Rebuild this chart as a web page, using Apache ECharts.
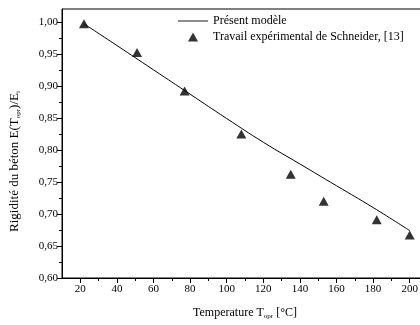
<!DOCTYPE html>
<html>
<head>
<meta charset="utf-8">
<script src="https://cdn.jsdelivr.net/npm/echarts@6/dist/echarts.min.js"></script>
<style>
  html, body { margin: 0; padding: 0; background: #fff; overflow: hidden; }
  #chart { width: 428px; height: 325px; }
</style>
</head>
<body>
<div id="chart"></div>
<script>
// model curve
const modelTemp = [22, 40, 60, 80, 100, 120, 140, 160, 180, 200];
const modelRigidity = [0.997, 0.963, 0.925, 0.887, 0.849, 0.812, 0.778, 0.744, 0.710, 0.674];

// Schneider experimental points
const expTemp = [22, 51, 77, 108, 135, 153, 182, 200];
const expRigidity = [0.997, 0.952, 0.892, 0.825, 0.762, 0.720, 0.691, 0.667];

const xMajor = [20, 40, 60, 80, 100, 120, 140, 160, 180, 200];
const xMinor = [30, 50, 70, 90, 110, 130, 150, 170, 190];
const yMajor = [0.60, 0.65, 0.70, 0.75, 0.80, 0.85, 0.90, 0.95, 1.00];
const yMinor = [0.625, 0.675, 0.725, 0.775, 0.825, 0.875, 0.925, 0.975];

const font = 'Liberation Serif';
const sub = { fontFamily: font, fontSize: 7, lineHeight: 6, verticalAlign: 'bottom', color: '#000' };

const chart = echarts.init(document.getElementById('chart'));

const baseX = {
  type: 'value', min: 10, max: 210, position: 'bottom',
  splitLine: { show: false }
};
const baseY = {
  type: 'value', min: 0.60, max: 1.02, position: 'left',
  splitLine: { show: false }
};

chart.setOption({
  animation: false,
  textStyle: { fontFamily: font, color: '#000' },
  grid: { left: 62, top: 9, right: 0, bottom: 44, show: true, borderColor: '#000', borderWidth: 1 },
  legend: {
    orient: 'vertical', left: 178, top: 15, padding: 0,
    itemWidth: 30, itemHeight: 9, itemGap: 4,
    textStyle: { fontFamily: font, fontSize: 12, color: '#000' },
    data: [
      { name: 'Présent modèle', icon: 'path://M0,0 L40,0 L40,1.2 L0,1.2 Z' },
      { name: 'Travail expérimental de Schneider, [13]', icon: 'path://M5,0 L10,9 L0,9 Z' }
    ]
  },
  xAxis: [
    Object.assign({}, baseX, {
      axisLine: { lineStyle: { color: '#000' } },
      axisTick: { length: 5, customValues: xMajor, lineStyle: { color: '#000' } },
      axisLabel: { customValues: xMajor, fontFamily: font, fontSize: 11, color: '#000', margin: 6 },
      name: 'Temperature T{sub|opr} [°C]',
      nameLocation: 'middle', nameGap: 28,
      nameTextStyle: { fontFamily: font, fontSize: 12, color: '#000', lineHeight: 14, rich: { sub: sub } }
    }),
    Object.assign({}, baseX, {
      axisLine: { show: false },
      axisTick: { length: 3, customValues: xMinor, lineStyle: { color: '#000' } },
      axisLabel: { show: false }
    })
  ],
  yAxis: [
    Object.assign({}, baseY, {
      axisLine: { show: true, lineStyle: { color: '#000' } },
      axisTick: { show: true, length: 5, customValues: yMajor, lineStyle: { color: '#000' } },
      axisLabel: {
        customValues: yMajor, fontFamily: font, fontSize: 11, color: '#000', margin: 4,
        formatter: v => v.toFixed(2).replace('.', ',')
      },
      name: 'Rigidité du béton E(T{sub|opr})/E{sub|i}',
      nameLocation: 'middle', nameGap: 40, nameRotate: 90,
      nameTextStyle: {
        fontFamily: font, fontSize: 13, color: '#000', lineHeight: 14,
        padding: [0, 36, 0, 0], rich: { sub: sub }
      }
    }),
    Object.assign({}, baseY, {
      axisLine: { show: false },
      axisTick: { show: true, length: 3, customValues: yMinor, lineStyle: { color: '#000' } },
      axisLabel: { show: false }
    })
  ],
  series: [
    {
      name: 'Présent modèle',
      type: 'line',
      symbol: 'none',
      smooth: true,
      lineStyle: { color: '#000', width: 1 },
      itemStyle: { color: '#000' },
      data: modelTemp.map((t, i) => [t, modelRigidity[i]])
    },
    {
      name: 'Travail expérimental de Schneider, [13]',
      type: 'scatter',
      symbol: 'triangle',
      symbolSize: [10, 9],
      itemStyle: { color: '#000' },
      data: expTemp.map((t, i) => [t, expRigidity[i]])
    }
  ]
});
</script>
</body>
</html>
